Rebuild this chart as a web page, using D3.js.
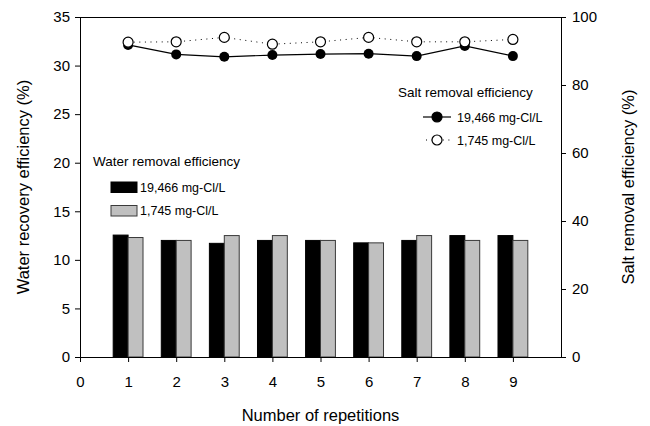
<!DOCTYPE html>
<html>
<head>
<meta charset="utf-8">
<script src="https://cdn.jsdelivr.net/npm/d3@7"></script>
<style>
  body { margin: 0; background: #fff; }
  text { font-family: "Liberation Sans", Arial, sans-serif; fill: #000; }
</style>
</head>
<body>
<script>
//Declare consts/global variables
    const width = 650;
    const height = 426;
    const margin = {top: 17, right: 89, bottom: 69, left: 80};

//Data
    const repetitions = [1, 2, 3, 4, 5, 6, 7, 8, 9];
    const waterHigh = [12.55, 12.0, 11.7, 12.0, 12.0, 11.75, 12.0, 12.5, 12.5]; // 19,466 mg-Cl/L
    const waterLow = [12.3, 12.0, 12.5, 12.5, 12.0, 11.75, 12.5, 12.0, 12.0];   // 1,745 mg-Cl/L
    const saltHigh = [91.8, 89.0, 88.3, 88.8, 89.1, 89.2, 88.5, 91.5, 88.5];
    const saltLow = [92.6, 92.7, 94.0, 92.0, 92.7, 94.0, 92.7, 92.7, 93.4];
    const xTicks = [0, 1, 2, 3, 4, 5, 6, 7, 8, 9];
    const leftTicks = [0, 5, 10, 15, 20, 25, 30, 35];
    const rightTicks = [0, 20, 40, 60, 80, 100];
    const seriesLabels = ["19,466 mg-Cl/L", "1,745 mg-Cl/L"];

    const barW = 0.31; // in x units

//Scales
    const xScale = d3.scaleLinear()
                    .domain([0, 10])
                    .range([margin.left, width - margin.right]);

    const yLeft = d3.scaleLinear()
                    .domain([0, 35])
                    .range([height - margin.bottom, margin.top]);

    const yRight = d3.scaleLinear()
                    .domain([0, 100])
                    .range([height - margin.bottom, margin.top]);

//SVG
    const svg = d3.select("body")
                .append("svg")
                .attr("width", width)
                .attr("height", height);

//Bars
    const bars = repetitions.map((r, i) => ({r: r, high: waterHigh[i], low: waterLow[i]}));

    svg.selectAll("rect.high")
        .data(bars)
        .enter()
        .append("rect")
        .attr("class", "high")
        .attr("x", d => xScale(d.r - barW))
        .attr("y", d => yLeft(d.high))
        .attr("width", xScale(barW) - xScale(0))
        .attr("height", d => yLeft(0) - yLeft(d.high))
        .attr("fill", "#000")
        .attr("stroke", "#000")
        .attr("stroke-width", 1);

    svg.selectAll("rect.low")
        .data(bars)
        .enter()
        .append("rect")
        .attr("class", "low")
        .attr("x", d => xScale(d.r))
        .attr("y", d => yLeft(d.low))
        .attr("width", xScale(barW) - xScale(0))
        .attr("height", d => yLeft(0) - yLeft(d.low))
        .attr("fill", "#c0c0c0")
        .attr("stroke", "#3a3a3a")
        .attr("stroke-width", 1);

//Lines (right axis)
    const line = d3.line()
                   .x((d, i) => xScale(repetitions[i]))
                   .y(d => yRight(d));

    svg.append("path")
        .attr("d", line(saltLow))
        .attr("fill", "none")
        .attr("stroke", "#000")
        .attr("stroke-width", 1)
        .attr("stroke-dasharray", "1,4.6");

    svg.append("path")
        .attr("d", line(saltHigh))
        .attr("fill", "none")
        .attr("stroke", "#000")
        .attr("stroke-width", 1.2);

    svg.selectAll("circle.high")
        .data(saltHigh)
        .enter()
        .append("circle")
        .attr("class", "high")
        .attr("cx", (d, i) => xScale(repetitions[i]))
        .attr("cy", d => yRight(d))
        .attr("r", 5)
        .attr("fill", "#000");

    svg.selectAll("circle.low")
        .data(saltLow)
        .enter()
        .append("circle")
        .attr("class", "low")
        .attr("cx", (d, i) => xScale(repetitions[i]))
        .attr("cy", d => yRight(d))
        .attr("r", 5)
        .attr("fill", "#fff")
        .attr("stroke", "#000")
        .attr("stroke-width", 1.2);

//Axes
    const bottomAxis = d3.axisBottom(xScale)
                         .tickValues(xTicks)
                         .tickFormat(d3.format("d"))
                         .tickSize(5)
                         .tickSizeOuter(0);

    const leftAxis = d3.axisLeft(yLeft)
                       .tickValues(leftTicks)
                       .tickSize(5)
                       .tickSizeOuter(0);

    const rightAxis = d3.axisRight(yRight)
                        .tickValues(rightTicks)
                        .tickSize(5)
                        .tickSizeOuter(0);

    const gx = svg.append("g")
        .attr("transform", "translate(0," + (height - margin.bottom) + ")")
        .call(bottomAxis);

    const gl = svg.append("g")
        .attr("transform", "translate(" + margin.left + ",0)")
        .call(leftAxis);

    const gr = svg.append("g")
        .attr("transform", "translate(" + (width - margin.right) + ",0)")
        .call(rightAxis);

    [gx, gl, gr].forEach(g => {
        g.selectAll("text").style("font-size", "15px").attr("font-family", null);
        g.selectAll("path, line").attr("stroke", "#000");
    });
    gx.selectAll("text").attr("dy", "0.71em").attr("y", 19);
    gl.selectAll("text").attr("x", -10);
    gr.selectAll("text").attr("x", 11);

    // top border line
    svg.append("line")
        .attr("x1", margin.left)
        .attr("x2", width - margin.right)
        .attr("y1", margin.top + 0.5)
        .attr("y2", margin.top + 0.5)
        .attr("stroke", "#000");

//Axis titles
    svg.append("text")
        .attr("x", (margin.left + width - margin.right) / 2)
        .attr("y", 421)
        .attr("text-anchor", "middle")
        .style("font-size", "16.5px")
        .text("Number of repetitions");

    svg.append("text")
        .attr("transform", "translate(29," + ((margin.top + height - margin.bottom) / 2) + ") rotate(-90)")
        .attr("text-anchor", "middle")
        .style("font-size", "16.5px")
        .text("Water recovery efficiency (%)");

    svg.append("text")
        .attr("transform", "translate(634," + ((margin.top + height - margin.bottom) / 2) + ") rotate(-90)")
        .attr("text-anchor", "middle")
        .style("font-size", "16.5px")
        .text("Salt removal efficiency (%)");

//Legend - water (bars)
    svg.append("text")
        .attr("x", 93)
        .attr("y", 166)
        .style("font-size", "13.5px")
        .text("Water removal efficiency");

    const barLegend = svg.selectAll("g.barleg")
        .data(seriesLabels)
        .enter()
        .append("g")
        .attr("class", "barleg")
        .attr("transform", (d, i) => "translate(111," + (182 + i * 23.5) + ")");

    barLegend.append("rect")
        .attr("width", 26)
        .attr("height", 10.5)
        .attr("fill", (d, i) => i === 0 ? "#000" : "#c0c0c0")
        .attr("stroke", (d, i) => i === 0 ? "#000" : "#3a3a3a");

    barLegend.append("text")
        .attr("x", 29)
        .attr("y", 9.5)
        .style("font-size", "12.5px")
        .text(d => d);

//Legend - salt (lines)
    svg.append("text")
        .attr("x", 398)
        .attr("y", 97)
        .style("font-size", "13.5px")
        .text("Salt removal efficiency");

    const lineLegend = svg.selectAll("g.lineleg")
        .data(seriesLabels)
        .enter()
        .append("g")
        .attr("class", "lineleg")
        .attr("transform", (d, i) => "translate(423," + (117 + i * 23) + ")");

    lineLegend.append("line")
        .attr("x1", (d, i) => i === 0 ? 0 : 3)
        .attr("x2", 28)
        .attr("stroke", "#000")
        .attr("stroke-width", (d, i) => i === 0 ? 1.2 : 1)
        .attr("stroke-dasharray", (d, i) => i === 0 ? null : "1,4.6");

    lineLegend.append("circle")
        .attr("cx", 14)
        .attr("r", 5)
        .attr("fill", (d, i) => i === 0 ? "#000" : "#fff")
        .attr("stroke", "#000")
        .attr("stroke-width", 1.2);

    lineLegend.append("text")
        .attr("x", 34)
        .attr("y", 4.5)
        .style("font-size", "12.5px")
        .text(d => d);
</script>
</body>
</html>
